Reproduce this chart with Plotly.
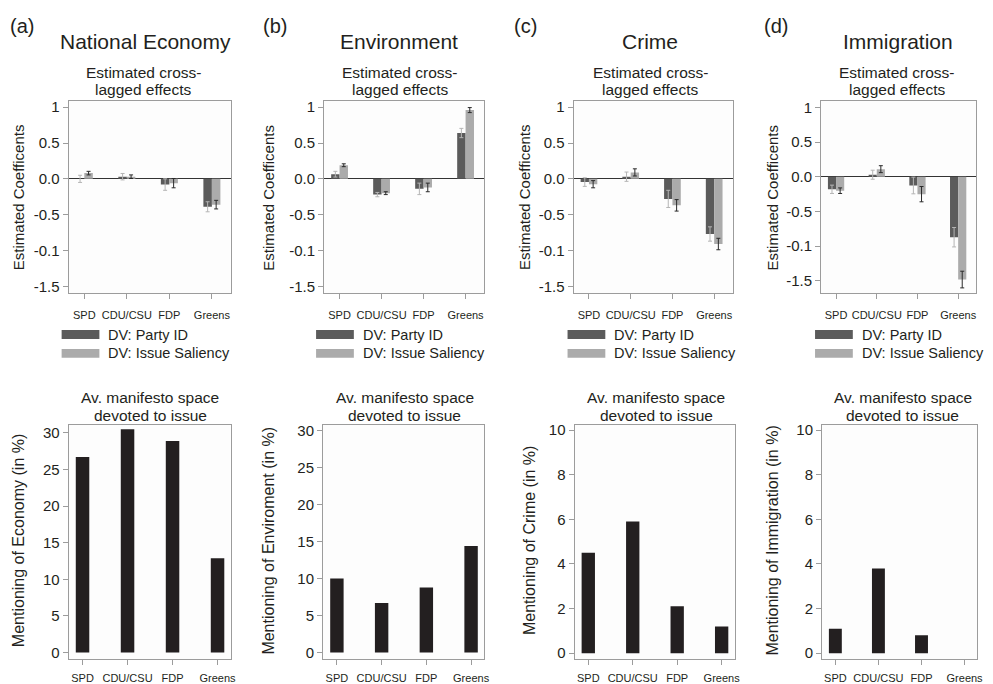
import plotly.graph_objects as go

W, H = 993, 684

# ---------------- data ----------------
categories = ["SPD", "CDU/CSU", "FDP", "Greens"]
panel_letters = ["(a)", "(b)", "(c)", "(d)"]
issues = ["National Economy", "Environment", "Crime", "Immigration"]
manifesto_titles = [
    "Mentioning of Economy (in %)",
    "Mentioning of Enviroment (in %)",
    "Mentioning of Crime (in %)",
    "Mentioning of Immigration (in %)",
]
coef_tickvals = [1, 0.5, 0, -0.5, -1, -1.5]
coef_ticktext = ["1", "0.5", "0.0", "-0.5", "-0.1", "-1.5"]
legend_labels = ["DV: Party ID", "DV: Issue Saliency"]

econ_party = [0.0, 0.03, -0.08, -0.39]
econ_party_err = [0.05, 0.045, 0.08, 0.07]
econ_sal = [0.08, 0.03, -0.06, -0.36]
econ_sal_err = [0.025, 0.025, 0.065, 0.06]

env_party = [0.065, -0.22, -0.14, 0.64]
env_party_err = [0.04, 0.03, 0.08, 0.065]
env_sal = [0.19, -0.2, -0.12, 0.96]
env_sal_err = [0.02, 0.02, 0.06, 0.035]

crime_party = [-0.045, 0.03, -0.28, -0.77]
crime_party_err = [0.06, 0.065, 0.12, 0.1]
crime_sal = [-0.075, 0.09, -0.37, -0.91]
crime_sal_err = [0.05, 0.05, 0.08, 0.08]

imm_party = [-0.18, 0.03, -0.125, -0.87]
imm_party_err = [0.06, 0.065, 0.12, 0.14]
imm_sal = [-0.2, 0.11, -0.25, -1.48]
imm_sal_err = [0.04, 0.05, 0.11, 0.12]

econ_manifesto = [26.7, 30.5, 28.9, 12.9]
env_manifesto = [10.0, 6.7, 8.8, 14.4]
crime_manifesto = [4.5, 5.9, 2.1, 1.2]
imm_manifesto = [1.1, 3.8, 0.8, 0.0]

party = [econ_party, env_party, crime_party, imm_party]
party_err = [econ_party_err, env_party_err, crime_party_err, imm_party_err]
sal = [econ_sal, env_sal, crime_sal, imm_sal]
sal_err = [econ_sal_err, env_sal_err, crime_sal_err, imm_sal_err]
manifesto = [econ_manifesto, env_manifesto, crime_manifesto, imm_manifesto]

# ---------------- layout geometry (pixels) ----------------
top_frames = [(69, 232), (326, 487), (577, 737), (826, 982)]
bot_frames = [(69, 232), (325, 487), (578, 739), (827, 983)]
top_y = (98, 292)
bot_y = (425, 661)
top_ranges = [[-1.6, 1.085], [-1.6, 1.085], [-1.6, 1.085], [-1.68, 1.09]]
bot_ranges = [[-0.9, 31.04], [-0.89, 30.71], [-0.27, 10.22], [-0.27, 10.22]]
bot_ticks = [[0, 5, 10, 15, 20, 25, 30], [0, 5, 10, 15, 20, 25, 30],
             [0, 2, 4, 6, 8, 10], [0, 2, 4, 6, 8, 10]]

letter_x = [8, 263, 515, 767]
title_x = [146, 401, 654, 903]
sub_top_x = [144, 402, 654, 902]
sub_bot_x = [151, 407, 660, 908]
ytitle_top_x = [18, 270, 527, 777]
ytitle_bot_x = [18, 270, 532, 777]
legend_x = [62, 318, 571, 820]

DARK = "#5b5b5b"
LIGHT = "#ababab"
BLACK = "#231f20"
FRAME = "#9c9c9c"
TXT = "#231f20"
FONT = "Liberation Sans, Arial, sans-serif"


def px(x):
    return x / W


def py(y):
    return 1 - y / H


def note(text, x, y, size, xanchor="center", angle=0):
    return dict(text=text, x=px(x), y=py(y), xref="paper", yref="paper",
                xanchor=xanchor, yanchor="middle", showarrow=False,
                textangle=angle, font=dict(size=size, color=TXT))


fig = go.Figure()
layout = {}
annotations = []
shapes = []

for i in range(4):
    nt = i + 1
    nb = i + 5
    # top: cross-lagged effects
    fig.add_trace(go.Bar(
        x=categories, y=party[i], width=0.2, offset=-0.2,
        marker=dict(color=DARK, line=dict(width=0)),
        error_y=dict(type="data", array=party_err[i], color="#b5b5b5",
                     thickness=1, width=2),
        xaxis=f"x{nt}", yaxis=f"y{nt}", showlegend=False,
        name=legend_labels[0]))
    fig.add_trace(go.Bar(
        x=categories, y=sal[i], width=0.2, offset=0.0,
        marker=dict(color=LIGHT, line=dict(width=0)),
        error_y=dict(type="data", array=sal_err[i], color="#2a2a2a",
                     thickness=1, width=2),
        xaxis=f"x{nt}", yaxis=f"y{nt}", showlegend=False,
        name=legend_labels[1]))
    # bottom: manifesto space
    fig.add_trace(go.Bar(
        x=categories, y=manifesto[i], width=0.3,
        marker=dict(color=BLACK, line=dict(width=0)),
        xaxis=f"x{nb}", yaxis=f"y{nb}", showlegend=False))

    common_x = dict(type="category", showline=True, mirror=True,
                    linecolor=FRAME, linewidth=1, ticks="outside", ticklen=5,
                    tickcolor=FRAME, tickfont=dict(size=11, color=TXT),
                    showgrid=False, zeroline=False, fixedrange=True)
    common_y = dict(showline=True, mirror=True, linecolor=FRAME, linewidth=1,
                    ticks="outside", ticklen=5, tickcolor=FRAME,
                    tickfont=dict(size=15, color=TXT), showgrid=False,
                    fixedrange=True)

    kx = "xaxis" if nt == 1 else f"xaxis{nt}"
    ky = "yaxis" if nt == 1 else f"yaxis{nt}"
    layout[kx] = dict(common_x, domain=[px(top_frames[i][0]), px(top_frames[i][1])],
                      anchor=f"y{nt}", range=[-0.37, 3.44], ticklabelstandoff=6)
    layout[ky] = dict(common_y, domain=[py(top_y[1]), py(top_y[0])],
                      anchor=f"x{nt}", range=top_ranges[i],
                      tickvals=coef_tickvals, ticktext=coef_ticktext,
                      zeroline=True, zerolinecolor="#333333", zerolinewidth=1)
    layout[f"xaxis{nb}"] = dict(common_x, domain=[px(bot_frames[i][0]), px(bot_frames[i][1])],
                                anchor=f"y{nb}", range=[-0.31, 3.29], ticklabelstandoff=4)
    layout[f"yaxis{nb}"] = dict(common_y, domain=[py(bot_y[1]), py(bot_y[0])],
                                anchor=f"x{nb}", range=bot_ranges[i],
                                tickvals=bot_ticks[i], zeroline=False)

    # texts
    annotations.append(note(panel_letters[i], letter_x[i], 22, 20, xanchor="left"))
    annotations.append(note(issues[i], title_x[i], 38, 21))
    annotations.append(note("Estimated cross-", sub_top_x[i], 69, 15.5))
    annotations.append(note("lagged effects", sub_top_x[i], 86, 15.5))
    annotations.append(note("Av. manifesto space", sub_bot_x[i], 397, 15.5))
    annotations.append(note("devoted to issue", sub_bot_x[i], 415, 15.5))
    annotations.append(note("Estimated Coefficents", ytitle_top_x[i],
                            (top_y[0] + top_y[1]) / 2, 15, angle=-90))
    annotations.append(note(manifesto_titles[i], ytitle_bot_x[i],
                            (bot_y[0] + bot_y[1]) / 2 - 2, 16, angle=-90))
    # legend (drawn as swatches + labels)
    for j, (col, yc) in enumerate([(DARK, 333.5), (LIGHT, 352.5)]):
        shapes.append(dict(type="rect", xref="paper", yref="paper",
                           x0=px(legend_x[i]), x1=px(legend_x[i] + 38),
                           y0=py(yc + 4.5), y1=py(yc - 4.5),
                           fillcolor=col, line=dict(width=0)))
        annotations.append(note(legend_labels[j], legend_x[i] + 45, yc, 14.5,
                                xanchor="left"))

fig.update_layout(
    **layout,
    width=W, height=H,
    margin=dict(l=0, r=0, t=0, b=0),
    paper_bgcolor="white",
    plot_bgcolor="#fdfdfd",
    barmode="overlay",
    showlegend=False,
    font=dict(family=FONT, color=TXT),
    annotations=annotations,
    shapes=shapes,
)

fig.write_html("out.html")
